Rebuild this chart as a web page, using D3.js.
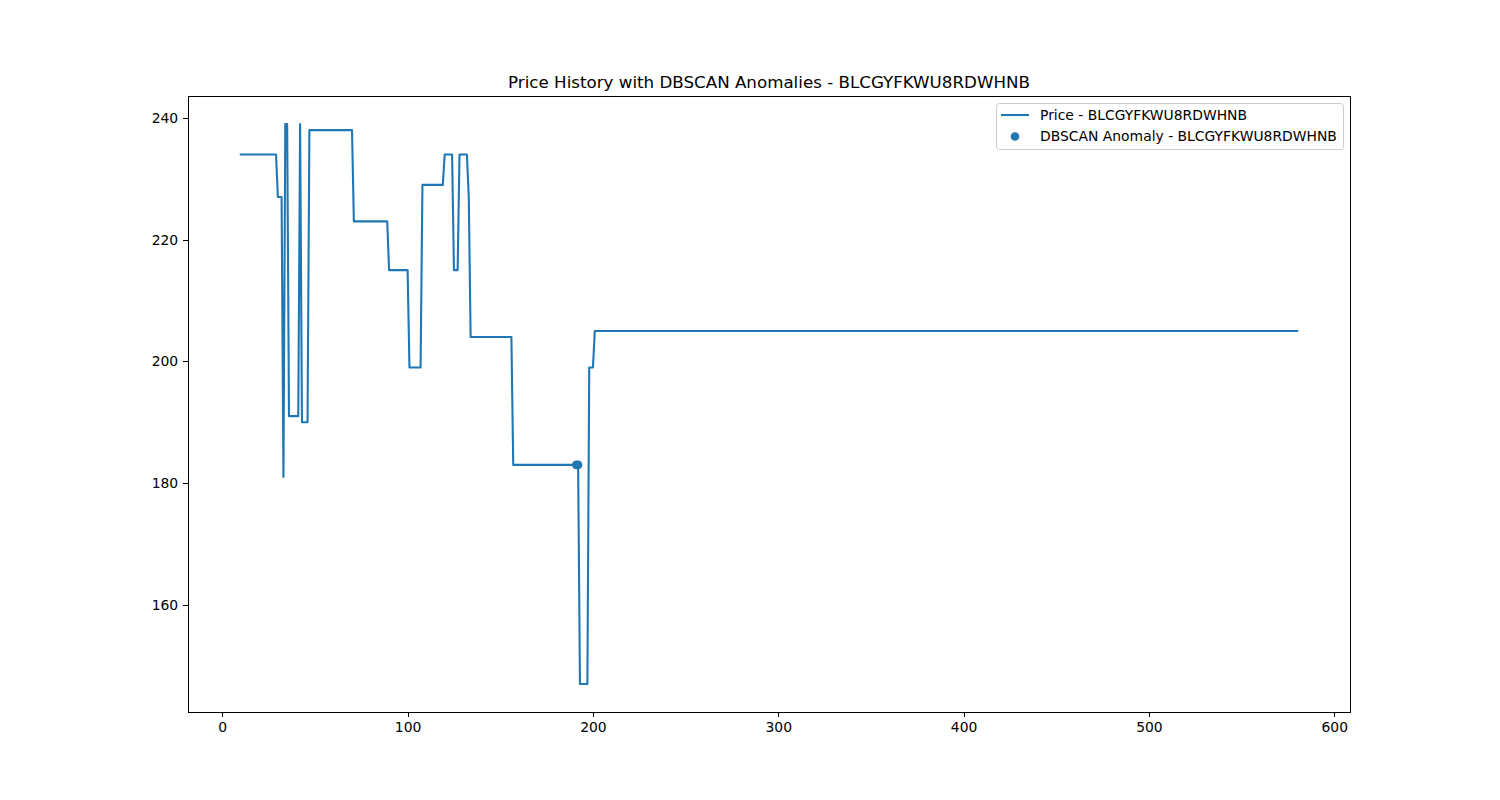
<!DOCTYPE html>
<html lang="en">
<head>
<meta charset="utf-8" />
<script src="https://d3js.org/d3.v7.min.js"></script>
<style>
    body { margin: 0; background: #fff; }
    svg text { font-family: "DejaVu Sans", sans-serif; fill: #000; }
</style>
</head>
<body>
<script>
    // price history (step change points)
    var days = [10, 29, 30, 32, 33, 34, 35, 36, 41, 42, 43, 46, 47, 70, 71, 89, 90, 100, 101, 107, 108,
        119, 120, 124, 125, 127, 128, 132, 133, 134, 156, 157, 192, 193, 197, 198, 200, 201, 580];
    var prices = [234, 234, 227, 227, 181, 239, 239, 191, 191, 239, 190, 190, 238, 238, 223, 223, 215, 215, 199, 199, 229,
        229, 234, 234, 215, 215, 234, 234, 227, 204, 204, 183, 183, 147, 147, 199, 199, 205, 205];

    // DBSCAN anomalies
    var anomalyDays = [191, 192];
    var anomalyPrices = [183, 183];

    var xTicks = [0, 100, 200, 300, 400, 500, 600];
    var yTicks = [160, 180, 200, 220, 240];

    var code = "BLCGYFKWU8RDWHNB";
    var color = "#1f77b4";

    var W = 1500, H = 800;
    var margin = { top: 96, right: 150, bottom: 88, left: 188 };
    var wide = W - margin.left - margin.right;
    var high = H - margin.top - margin.bottom;

    var xmin = d3.min(days), xmax = d3.max(days);
    var ymin = d3.min(prices), ymax = d3.max(prices);
    var xpad = (xmax - xmin) * 0.05, ypad = (ymax - ymin) * 0.05;

    var x = d3.scaleLinear().domain([xmin - xpad, xmax + xpad]).range([0, wide]);
    var y = d3.scaleLinear().domain([ymin - ypad, ymax + ypad]).range([high, 0]);

    var svg = d3.select("body").append("svg")
        .attr("width", W).attr("height", H);

    var main = svg.append("g")
        .attr("transform", "translate(" + margin.left + "," + margin.top + ")");

    var pts = days.map(function (d, i) { return [d, prices[i]]; });
    var line = d3.line().x(function (d) { return x(d[0]); }).y(function (d) { return y(d[1]); });

    main.append("path")
        .datum(pts)
        .attr("d", line)
        .attr("fill", "none")
        .attr("stroke", color)
        .attr("stroke-width", 2.1)
        .attr("stroke-linejoin", "round")
        .attr("stroke-linecap", "square");

    main.selectAll("circle.anom")
        .data(anomalyDays.map(function (d, i) { return [d, anomalyPrices[i]]; }))
        .enter().append("circle")
        .attr("class", "anom")
        .attr("cx", function (d) { return x(d[0]); })
        .attr("cy", function (d) { return y(d[1]); })
        .attr("r", 4.3)
        .attr("fill", color);

    var xAxis = main.append("g")
        .attr("transform", "translate(0," + high + ")")
        .call(d3.axisBottom(x).tickValues(xTicks).tickSize(4.9).tickPadding(4.9).tickFormat(d3.format("d")));
    var yAxis = main.append("g")
        .call(d3.axisLeft(y).tickValues(yTicks).tickSize(4.9).tickPadding(4.9).tickFormat(d3.format("d")));

    [xAxis, yAxis].forEach(function (a) {
        a.select(".domain").remove();
        a.selectAll("line").attr("stroke", "#000").attr("stroke-width", 1).attr("shape-rendering", "crispEdges");
        a.selectAll("text").style("font-size", "13.9px").style("font-family", "DejaVu Sans, sans-serif");
    });

    // frame
    main.append("rect")
        .attr("x", 0.5).attr("y", 0.5)
        .attr("width", wide).attr("height", high)
        .attr("fill", "none").attr("stroke", "#000").attr("stroke-width", 1);

    svg.append("text")
        .attr("x", margin.left + wide / 2).attr("y", margin.top - 8)
        .attr("text-anchor", "middle")
        .style("font-size", "16.7px")
        .text("Price History with DBSCAN Anomalies - " + code);

    // legend
    var lg = svg.append("g").attr("transform", "translate(996,103)");
    lg.append("rect")
        .attr("x", 0.5).attr("y", 0.5).attr("width", 347).attr("height", 46)
        .attr("rx", 3).attr("fill", "#fff").attr("fill-opacity", 0.8)
        .attr("stroke", "#cccccc");
    lg.append("line")
        .attr("x1", 5).attr("x2", 33).attr("y1", 12).attr("y2", 12)
        .attr("stroke", color).attr("stroke-width", 2.1);
    lg.append("circle")
        .attr("cx", 19).attr("cy", 33.5).attr("r", 4.3).attr("fill", color);
    lg.append("text").attr("x", 44).attr("y", 17).style("font-size", "13.9px")
        .text("Price - " + code);
    lg.append("text").attr("x", 44).attr("y", 38).style("font-size", "13.9px")
        .text("DBSCAN Anomaly - " + code);
</script>
</body>
</html>
